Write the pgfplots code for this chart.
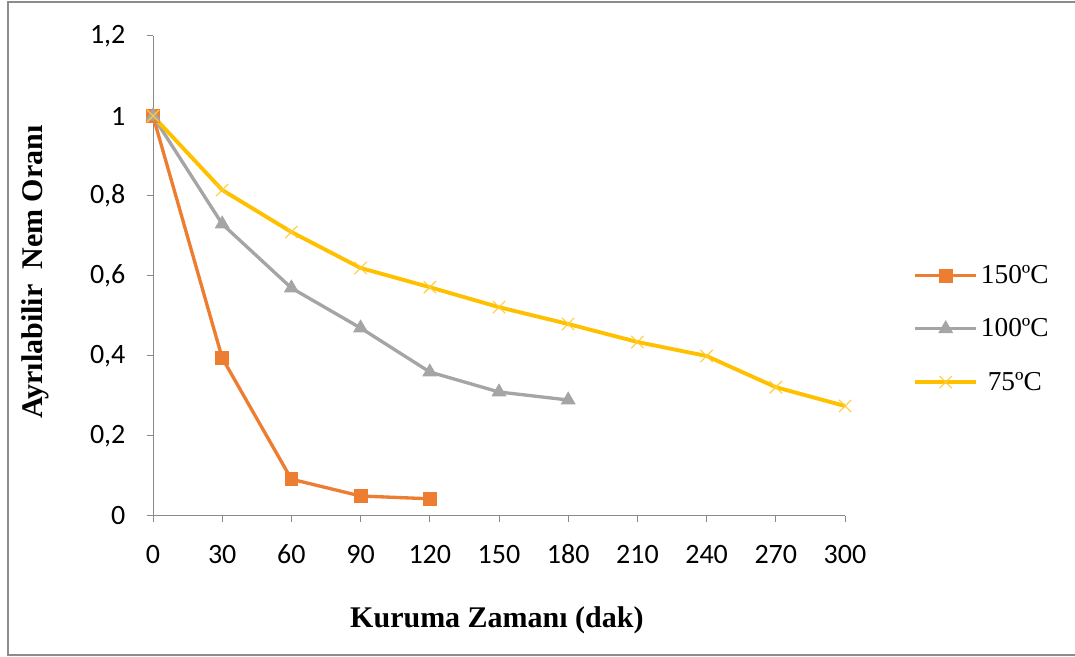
\documentclass[border=0pt]{standalone}
\usepackage{pgfplots}
\pgfplotsset{compat=1.18}
\usepackage{fontspec}
\setmainfont{Liberation Serif}
\newfontfamily\carlito{Carlito}

\definecolor{c150}{HTML}{ED7D31}
\definecolor{c100}{HTML}{A5A5A5}
\definecolor{c75}{HTML}{FFC000}
\definecolor{axisgray}{HTML}{8A8A8A}
\definecolor{framegray}{HTML}{8C8C8C}

\begin{document}
\begin{tikzpicture}
\useasboundingbox (0,0) rectangle (806.25pt,492.75pt);
% outer frame (open on the right)
\draw[framegray, line width=1.5pt] (806.25pt,491.25pt) -- (6pt,491.25pt) -- (6pt,1.5pt) -- (806.25pt,1.5pt);
\begin{axis}[
  at={(114.75pt,105.75pt)}, anchor=south west,
  scale only axis, width=519pt, height=360pt,
  xmin=0, xmax=300, ymin=0, ymax=1.2,
  axis x line*=bottom, axis y line*=left,
  axis line style={-, axisgray, line width=0.75pt},
  tick style={axisgray, line width=0.75pt},
  tick align=outside, major tick length=4.5pt,
  xtick={0,30,...,300},
  ytick={0,0.2,0.4,0.6,0.8,1,1.2},
  /pgf/number format/use comma,
  /pgf/number format/assume math mode=true,
  tick label style={font=\carlito\fontsize{21}{24}\selectfont, text=black},
  xticklabel style={anchor=base, inner sep=0pt, yshift=-31.3pt},
  yticklabel style={anchor=east, inner sep=0pt, xshift=-16pt},
  clip=false,
  xlabel={Kuruma Zamanı (dak)},
  ylabel={Ayrılabilir\ \ Nem Oranı},
  label style={font=\bfseries\fontsize{22.5}{26}\selectfont},
  xlabel style={at={(axis description cs:0.497,-0.217)}, anchor=center},
  ylabel style={at={(axis description cs:-0.1705,0.508)}, anchor=center},
  legend style={draw=none, fill=none, at={(axis description cs:1.098,0.39)}, anchor=west,
    font=\fontsize{20.5}{24}\selectfont, inner sep=0pt, row sep=0pt, column sep=0pt,
    nodes={inner sep=2pt, minimum height=40pt}},
  legend cell align=left,
  legend image code/.code={\draw[mark repeat=2,mark phase=2,#1] plot coordinates {(0pt,0pt) (23pt,0pt) (46pt,0pt)};},
]
\addplot[c150, line width=2.5pt, mark=square*, mark size=4.8pt, mark options={solid, line width=0.5pt}]
  coordinates {(0,1) (30,0.395) (60,0.092) (90,0.05) (120,0.043)};
\addlegendentry{150ºC}
\addplot[c100, line width=2.5pt, mark=triangle*, mark size=6pt, mark options={solid, line width=0.5pt}]
  coordinates {(0,1) (30,0.73) (60,0.57) (90,0.47) (120,0.36) (150,0.31) (180,0.29)};
\addlegendentry{100ºC}
\addplot[c75, line width=2.9pt, mark=x, mark size=6.5pt, mark options={solid, line width=0.8pt, color=c75!80}]
  coordinates {(0,1) (30,0.815) (60,0.71) (90,0.62) (120,0.572) (150,0.522) (180,0.48) (210,0.435) (240,0.40) (270,0.322) (300,0.275)};
\addlegendentry{\ 75ºC}
\end{axis}
\end{tikzpicture}
\end{document}
